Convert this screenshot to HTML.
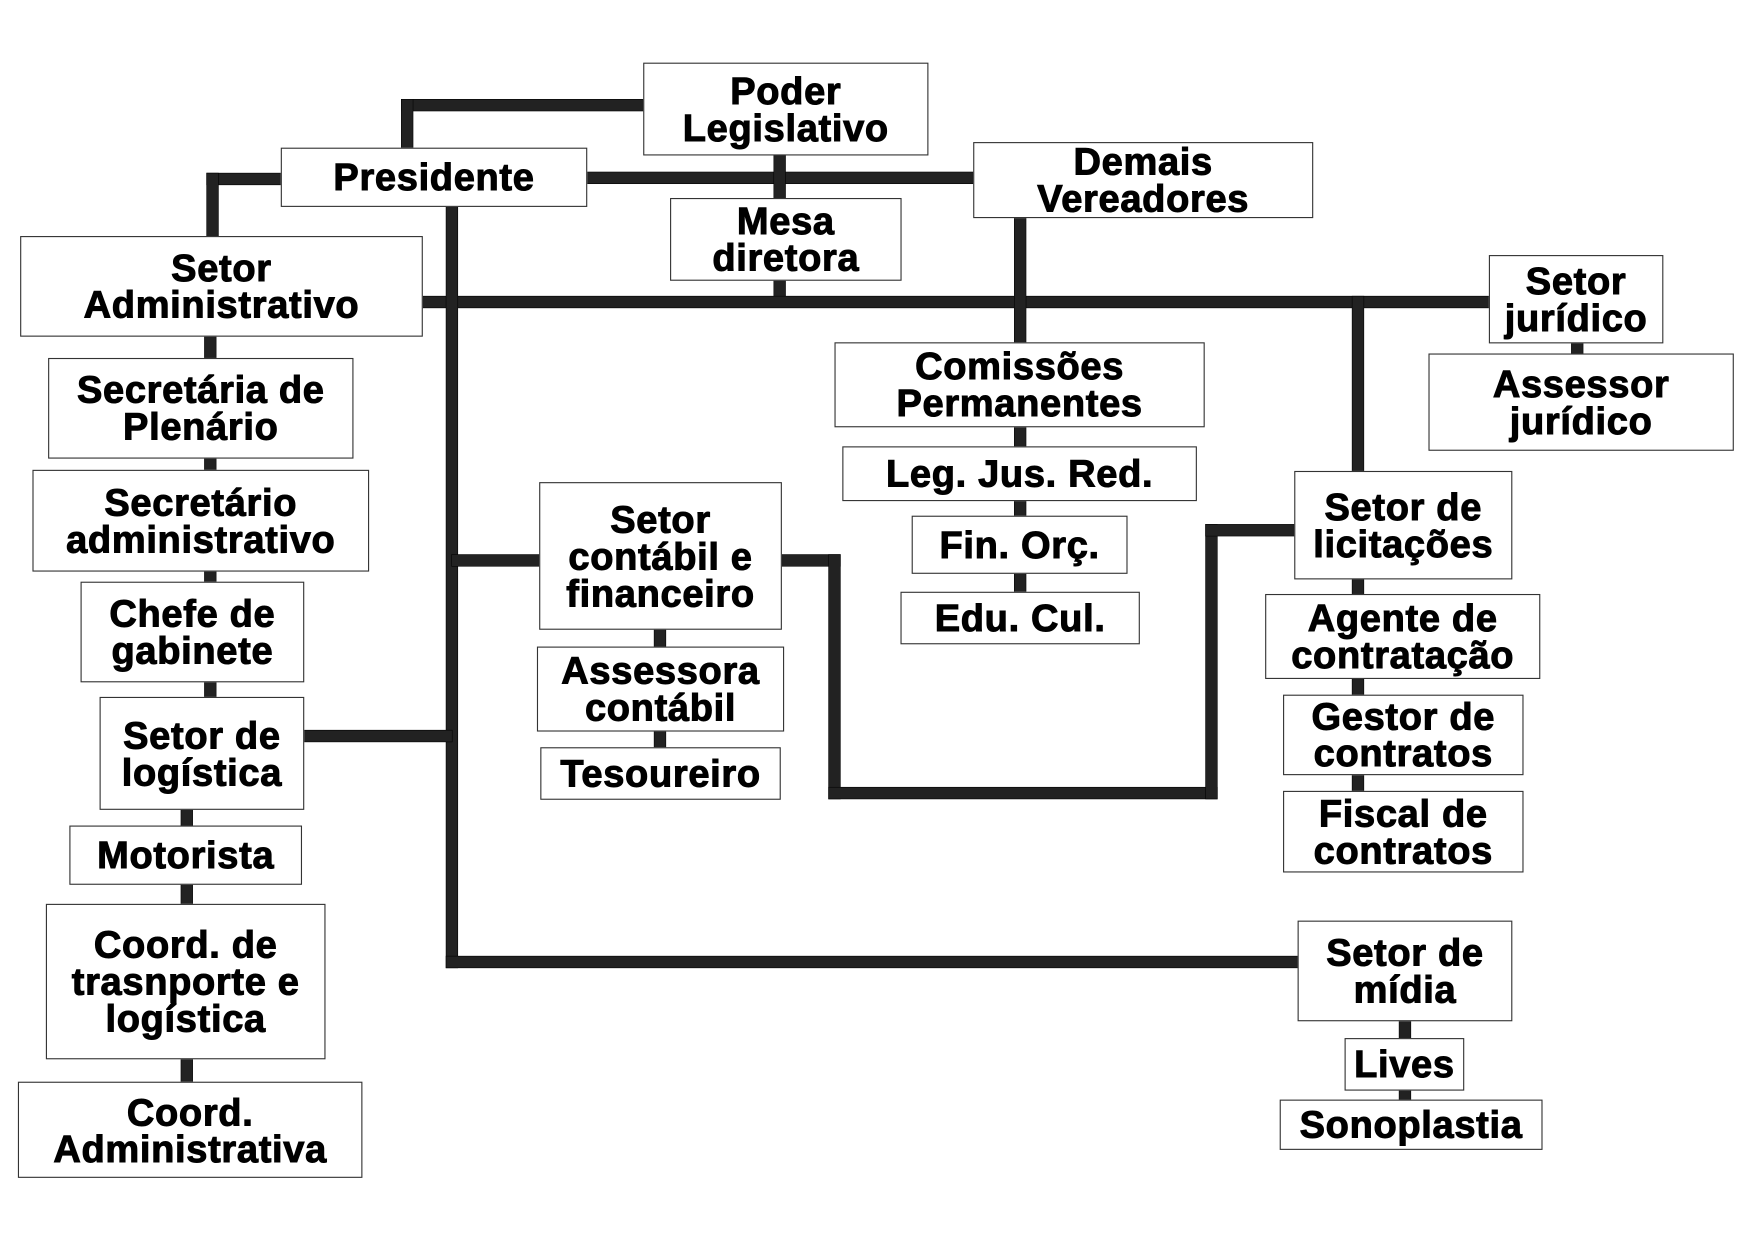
<!DOCTYPE html>
<html><head><meta charset="utf-8"><style>
html,body{margin:0;padding:0;background:#fff;width:1754px;height:1241px;overflow:hidden}
#c{position:absolute;left:0;top:0;width:1568px;height:1110px;transform:scale(1.1186);transform-origin:0 0}
.l{position:absolute;background:#222;box-shadow:0 0 0 0.5px #000}
.b{position:absolute;background:#fff;border:1px solid #333;box-sizing:border-box;display:flex;align-items:center;justify-content:center;text-align:center;font-family:"Liberation Sans",sans-serif;font-weight:bold;font-size:34px;line-height:33px;color:#000;letter-spacing:0.6px;-webkit-text-stroke:0.9px #000;padding-top:2px}
</style></head><body><div id="c">
<!-- lines -->
<div class="l" style="left:359px;top:89px;width:216px;height:10px"></div>
<div class="l" style="left:359px;top:89px;width:10px;height:45px"></div>
<div class="l" style="left:185px;top:155px;width:68px;height:10px"></div>
<div class="l" style="left:185px;top:155px;width:10px;height:58px"></div>
<div class="l" style="left:524px;top:154px;width:348px;height:10px"></div>
<div class="l" style="left:692px;top:138px;width:10px;height:134px"></div>
<div class="l" style="left:377px;top:265px;width:956px;height:10px"></div>
<div class="l" style="left:907px;top:194px;width:10px;height:114px"></div>
<div class="l" style="left:1209px;top:265px;width:10px;height:158px"></div>
<div class="l" style="left:399px;top:184px;width:10px;height:681px"></div>
<div class="l" style="left:399px;top:855px;width:763px;height:10px"></div>
<div class="l" style="left:404px;top:496px;width:80px;height:10px"></div>
<div class="l" style="left:271px;top:653px;width:133px;height:10px"></div>
<div class="l" style="left:698px;top:496px;width:53px;height:10px"></div>
<div class="l" style="left:741px;top:496px;width:10px;height:218px"></div>
<div class="l" style="left:741px;top:704px;width:347px;height:10px"></div>
<div class="l" style="left:1078px;top:469px;width:10px;height:245px"></div>
<div class="l" style="left:1078px;top:469px;width:81px;height:10px"></div>
<div class="l" style="left:183px;top:300px;width:10px;height:325px"></div>
<div class="l" style="left:162px;top:723px;width:10px;height:246px"></div>
<div class="l" style="left:585px;top:562px;width:10px;height:108px"></div>
<div class="l" style="left:907px;top:380px;width:10px;height:151px"></div>
<div class="l" style="left:1405px;top:306px;width:10px;height:12px"></div>
<div class="l" style="left:1209px;top:517px;width:10px;height:192px"></div>
<div class="l" style="left:1251px;top:912px;width:10px;height:73px"></div>
<!-- boxes -->
<div class="b" style="left:575px;top:56px;width:255px;height:83px">Poder<br>Legislativo</div>
<div class="b" style="left:251px;top:132px;width:274px;height:53px">Presidente</div>
<div class="b" style="left:599px;top:177px;width:207px;height:74px">Mesa<br>diretora</div>
<div class="b" style="left:870px;top:127px;width:304px;height:68px">Demais<br>Vereadores</div>
<div class="b" style="left:18px;top:211px;width:360px;height:90px">Setor<br>Administrativo</div>
<div class="b" style="left:43px;top:320px;width:273px;height:90px">Secretária de<br>Plenário</div>
<div class="b" style="left:29px;top:420px;width:301px;height:91px">Secretário<br>administrativo</div>
<div class="b" style="left:72px;top:520px;width:200px;height:90px">Chefe de<br>gabinete</div>
<div class="b" style="left:89px;top:623px;width:183px;height:101px">Setor de<br>logística</div>
<div class="b" style="left:62px;top:738px;width:208px;height:53px">Motorista</div>
<div class="b" style="left:41px;top:808px;width:250px;height:139px">Coord. de<br>trasnporte e<br>logística</div>
<div class="b" style="left:16px;top:967px;width:308px;height:86px;padding-top:4px">Coord.<br>Administrativa</div>
<div class="b" style="left:482px;top:431px;width:217px;height:132px">Setor<br>contábil e<br>financeiro</div>
<div class="b" style="left:480px;top:578px;width:221px;height:76px">Assessora<br>contábil</div>
<div class="b" style="left:483px;top:668px;width:215px;height:47px">Tesoureiro</div>
<div class="b" style="left:746px;top:306px;width:331px;height:76px">Comissões<br>Permanentes</div>
<div class="b" style="left:753px;top:399px;width:317px;height:49px">Leg. Jus. Red.</div>
<div class="b" style="left:815px;top:461px;width:193px;height:52px">Fin. Orç.</div>
<div class="b" style="left:805px;top:529px;width:214px;height:47px">Edu. Cul.</div>
<div class="b" style="left:1331px;top:228px;width:156px;height:79px">Setor<br>jurídico</div>
<div class="b" style="left:1277px;top:316px;width:273px;height:87px">Assessor<br>jurídico</div>
<div class="b" style="left:1157px;top:421px;width:195px;height:97px">Setor de<br>licitações</div>
<div class="b" style="left:1131px;top:531px;width:246px;height:76px">Agente de<br>contratação</div>
<div class="b" style="left:1147px;top:621px;width:215px;height:72px">Gestor de<br>contratos</div>
<div class="b" style="left:1147px;top:707px;width:215px;height:73px">Fiscal de<br>contratos</div>
<div class="b" style="left:1160px;top:823px;width:192px;height:90px">Setor de<br>mídia</div>
<div class="b" style="left:1202px;top:928px;width:107px;height:47px">Lives</div>
<div class="b" style="left:1144px;top:983px;width:235px;height:45px">Sonoplastia</div>
</div></body></html>
